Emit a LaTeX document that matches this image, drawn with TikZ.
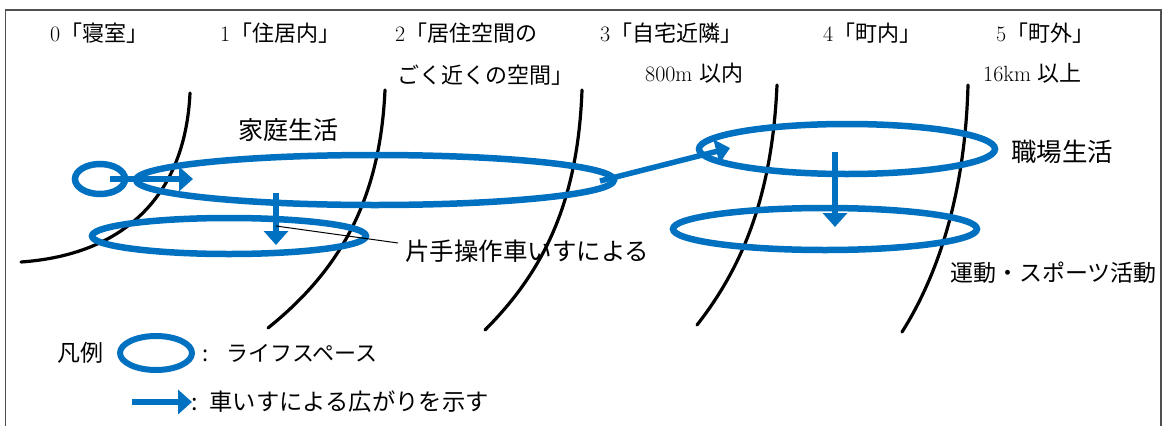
\documentclass[tikz,border=0pt]{standalone}
\usepackage{fontspec}
\usetikzlibrary{shapes.geometric,arrows.meta}
\newfontfamily\jp{Noto Sans CJK JP}
\definecolor{lsblue}{RGB}{0,112,192}
\definecolor{framegray}{RGB}{80,80,80}
\tikzset{
  zone/.style={line width=3.2pt, line cap=round},
  lifespace/.style={ellipse, draw=lsblue, line width=6.5pt, inner sep=0pt, outer sep=0pt},
  warrow/.style={draw=lsblue, line width=5.5pt, -{Triangle[width=24pt,length=14pt]}},
  lbl/.style={inner sep=0pt, anchor=west, font=\jp\fontsize{24.5}{26}\selectfont},
  head/.style={inner sep=0pt, anchor=west, font=\fontsize{22}{24}\selectfont},
}
\begin{document}
\begin{tikzpicture}[x=1pt,y=-1pt]
\useasboundingbox (0,0) rectangle (1163,426);
% frame
\draw[framegray, line width=1.5pt] (5.5,426) -- (5.5,10) -- (1161,10) -- (1161,426);

% zone boundaries
\draw[zone] (190,93) .. controls (185,200) and (120,255) .. (21,262);
\draw[zone] (385,90) .. controls (380,200) and (340,270) .. (268,328);
\draw[zone] (582,90) .. controls (578,200) and (545,270) .. (485,330);
\draw[zone] (777,85) .. controls (772,200) and (740,270) .. (697,325);
\draw[zone] (968,85) .. controls (965,200) and (935,280) .. (902,332);

% headings
\node[head] (h0) at (50,33) {0{\jp「寝室」}};
\node[head] (h1) at (220,33) {1{\jp「住居内」}};
\node[head] (h2) at (395,33) {2{\jp「居住空間の}};
\node[head] (h2b) at (397,75) {{\jp ごく近くの空間」}};
\node[head] (h3) at (600,33) {3{\jp「自宅近隣」}};
\node[head] (h4) at (823,33) {4{\jp「町内」}};
\node[head] (h5) at (996,33) {5{\jp「町外」}};
\node[head] (d3) at (645,73) {800m {\jp 以内}};
\node[head] (d5) at (983,73) {16km {\jp 以上}};

% life spaces
\node[lifespace, minimum width=50pt, minimum height=30pt] (bed) at (100,179) {};
\node[lifespace, minimum width=478pt, minimum height=50pt] (home) at (375,180) {};
\node[lifespace, minimum width=274pt, minimum height=36pt] (onehand) at (229,236) {};
\node[lifespace, minimum width=296pt, minimum height=50pt] (work) at (847,149) {};
\node[lifespace, minimum width=304pt, minimum height=42pt] (sport) at (825,229) {};

% arrows
\coordinate (a1end) at (193,179);
\draw[warrow] (bed.center) ++(10,0) coordinate (a1start) -- (a1end);
\coordinate (a2start) at (276,193);
\coordinate (a2end) at (276,245);
\draw[warrow] (a2start) -- (a2end);
\coordinate (a3start) at (600,181);
\coordinate (a3end) at (730,148);
\draw[warrow] (a3start) -- (a3end);
\coordinate (a4start) at (835,152);
\coordinate (a4end) at (835,227);
\draw[warrow] (a4start) -- (a4end);

% labels
\node[lbl, font=\jp\fontsize{25}{27}\selectfont] (lhome) at (238,130) {家庭生活};
\node[lbl] (lone) at (405,251) {片手操作車いすによる};
\coordinate (leadA) at (276,226);
\coordinate (leadB) at (398,243);
\draw[line width=1pt] (leadA) -- (leadB);
\node[lbl, font=\jp\fontsize{25.5}{27}\selectfont] (lwork) at (1011,152) {職場生活};
\node[lbl, font=\jp\fontsize{23}{25}\selectfont] (lsport) at (950,273) {運動・スポーツ活動};

% legend
\node[lbl, font=\jp\fontsize{23}{25}\selectfont] (leg) at (57,353) {凡例};
\node[lifespace, line width=6pt, minimum width=72pt, minimum height=34pt] (legell) at (156,353) {};
\node[lbl, font=\jp\fontsize{22}{24}\selectfont] (legtxt1) at (202,353) {:\hspace{18pt}ライフスペース};
\coordinate (legA) at (132,402);
\coordinate (legB) at (192,402);
\draw[warrow] (legA) -- (legB);
\node[lbl, font=\jp\fontsize{23.3}{25}\selectfont] (legtxt2) at (191,402) {:\hspace{12pt}車いすによる広がりを示す};
\end{tikzpicture}
\end{document}
